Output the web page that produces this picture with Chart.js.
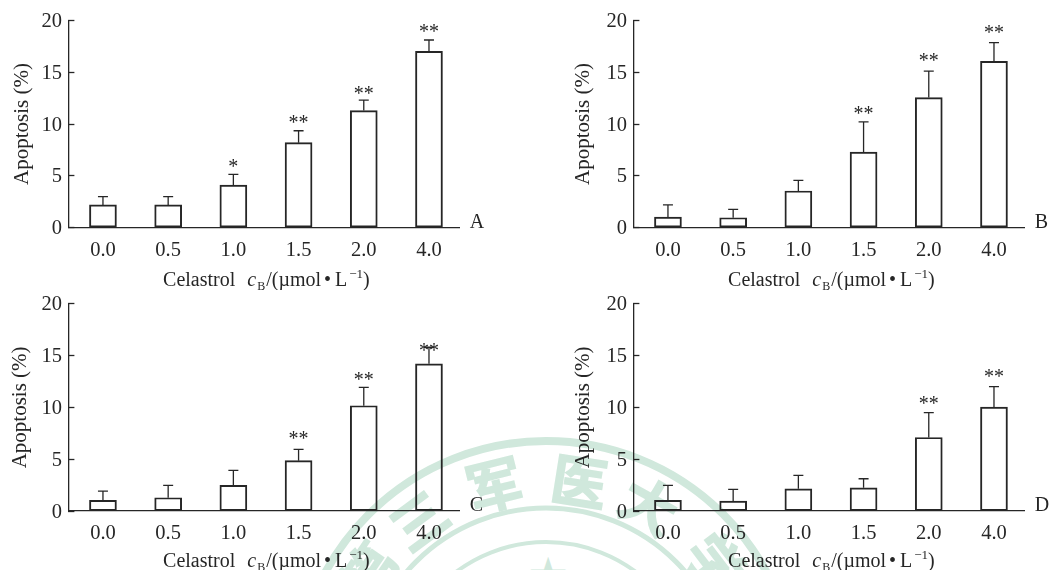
<!DOCTYPE html>
<html>
<head>
  <title>Celastrol apoptosis</title>
  <script src="https://cdn.jsdelivr.net/npm/chart.js"></script>
  <style>
    html, body { margin: 0; height: 100%; background: #fff; overflow: hidden; }
    canvas, svg { position: absolute; }
    svg { left: 0; top: 0; }
  </style>
</head>
<body>
  <!-- pale stamp behind the two lower panels -->
  <svg width="1051" height="570" aria-hidden="true">
    <g fill="none" stroke="#d0e8dc">
      <circle cx="546" cy="692" r="251" stroke-width="8"/>
      <circle cx="546" cy="692" r="184" stroke-width="5"/>
      <circle cx="546" cy="692" r="150" stroke-width="4"/>
    </g>
    <g id="stamp" fill="#d0e8dc" stroke="#d0e8dc" stroke-width="1.5" font-family="Noto Sans CJK SC" font-weight="700" font-size="56" text-anchor="middle"></g>
    <text x="548" y="590" fill="#d0e8dc" font-family="DejaVu Sans" font-size="46" text-anchor="middle">★</text>
  </svg>
  <canvas id="chartA" width="520" height="290" style="left:0;top:0"></canvas>
  <canvas id="chartB" width="486" height="290" style="left:565px;top:0"></canvas>
  <canvas id="chartC" width="520" height="287" style="left:0;top:283px"></canvas>
  <canvas id="chartD" width="486" height="287" style="left:565px;top:283px"></canvas>

  <script>
    const categories = ['0.0', '0.5', '1.0', '1.5', '2.0', '4.0'];
    const yTicks = [0, 5, 10, 15, 20];

    const barsA = [2.2, 2.2, 4.1, 8.2, 11.3, 17.0];
    const errTopA = [3.0, 3.0, 5.15, 9.35, 12.3, 18.1];
    const starsA = ['', '', '*', '**', '**', '**'];
    const starYA = [0, 0, 6.2, 10.4, 13.2, 19.2];

    const barsB = [1.03, 0.96, 3.54, 7.3, 12.55, 16.05];
    const errTopB = [2.2, 1.77, 4.57, 10.2, 15.1, 17.85];
    const starsB = ['', '', '', '**', '**', '**'];
    const starYB = [0, 0, 0, 11.35, 16.4, 19.07];

    const barsC = [1.03, 1.29, 2.48, 4.86, 10.16, 14.2];
    const errTopC = [1.93, 2.48, 3.92, 5.95, 11.93, 15.8];
    const starsC = ['', '', '', '**', '**', '**'];
    const starYC = [0, 0, 0, 7.27, 13.0, 15.8];

    const barsD = [1.03, 0.96, 2.15, 2.25, 7.1, 10.03];
    const errTopD = [2.48, 2.09, 3.44, 3.12, 9.49, 12.0];
    const starsD = ['', '', '', '', '**', '**'];
    const starYD = [0, 0, 0, 0, 10.7, 13.28];

    const INK = '#262626';
    const FONT = '"Liberation Serif"';

    Chart.defaults.font.family = FONT;
    Chart.defaults.font.size = 20.5;
    Chart.defaults.color = INK;

    // characters of the stamp sit on a circle
    const stamp = document.getElementById('stamp');
    [['第', -56], ['三', -36.5], ['军', -14], ['医', 9], ['大', 29], ['学', 52.6]].forEach(([ch, deg]) => {
      const t = document.createElementNS('http://www.w3.org/2000/svg', 'text');
      t.textContent = ch;
      t.setAttribute('transform', `translate(546 692) rotate(${deg}) translate(0 -192)`);
      stamp.appendChild(t);
    });

    // "Celastrol cB/(µmol•L-1)" needs italic, subscript and superscript
    const xTitleParts = [
      { text: 'Celastrol ', size: 20, dy: 0, gap: 0 },
      { text: 'c', size: 20, dy: 0, gap: 7, italic: true },
      { text: 'B', size: 12, dy: 4, gap: 1 },
      { text: '/(µmol', size: 20, dy: 0, gap: 1 },
      { text: '•', size: 20, dy: 0, gap: 3 },
      { text: 'L', size: 20, dy: 0, gap: 4 },
      { text: '−1', size: 13, dy: -8, gap: 2 },
      { text: ')', size: 20, dy: 0, gap: 0 }
    ];

    function drawXTitle(ctx, cx, y) {
      const fontOf = p => (p.italic ? 'italic ' : '') + p.size + 'px ' + FONT;
      let total = 0;
      xTitleParts.forEach(p => { ctx.font = fontOf(p); total += p.gap + ctx.measureText(p.text).width; });
      let x = cx - total / 2;
      xTitleParts.forEach(p => {
        ctx.font = fontOf(p);
        x += p.gap;
        ctx.fillText(p.text, x, y + p.dy);
        x += ctx.measureText(p.text).width;
      });
    }

    function makePanel(id, letter, bars, errTop, stars, starY, o) {
      const canvas = document.getElementById(id);
      const annotations = {
        id: 'annotations',
        afterDatasetsDraw(chart) {
          const { ctx, scales: { x, y } } = chart;
          ctx.save();
          ctx.strokeStyle = INK;
          ctx.lineWidth = 1.3;
          ctx.fillStyle = INK;
          bars.forEach((v, i) => {
            const px = x.getPixelForValue(i);
            const top = y.getPixelForValue(errTop[i]);
            ctx.beginPath();
            ctx.moveTo(px, y.getPixelForValue(v));
            ctx.lineTo(px, top);
            ctx.moveTo(px - 5, top);
            ctx.lineTo(px + 5, top);
            ctx.stroke();
            if (stars[i]) {
              ctx.font = '20px ' + FONT;
              ctx.textAlign = 'center';
              ctx.fillText(stars[i], px, y.getPixelForValue(starY[i]) + 9.5);
            }
          });
          ctx.textAlign = 'left';
          ctx.font = '20px ' + FONT;
          ctx.fillText(letter, x.right + 10.5, y.bottom + o.letterDy);
          drawXTitle(ctx, x.left + 198, y.bottom + o.titleDy);
          ctx.restore();
        }
      };
      return new Chart(canvas, {
        type: 'bar',
        data: {
          datasets: [{
            data: bars.map((v, i) => ({ x: i, y: v })),
            backgroundColor: 'transparent',
            borderColor: INK,
            borderWidth: 1.3,
            borderSkipped: false,
            barThickness: 27
          }]
        },
        options: {
          responsive: false,
          animation: false,
          layout: { padding: { top: o.top, right: canvas.width - 68.4 - 390.9 } },
          plugins: { legend: { display: false }, tooltip: { enabled: false } },
          scales: {
            x: {
              type: 'linear',
              offset: false,
              min: -0.53,
              max: 5.465,
              grid: { display: false, offset: false },
              border: { color: INK, width: 1.3 },
              ticks: {
                stepSize: 1,
                includeBounds: false,
                autoSkip: false,
                maxRotation: 0,
                padding: o.xPad,
                callback: v => categories[v]
              },
              afterFit(s) { s.height = canvas.height - o.top - 207.4; }
            },
            y: {
              min: 0,
              max: 20,
              grid: { drawOnChartArea: false, tickLength: -6, tickColor: INK, tickWidth: 1.3 },
              border: { color: INK, width: 1.3 },
              ticks: { stepSize: 5, padding: 12.5, labelOffset: 1.2, callback: v => (yTicks.includes(v) ? v : '') },
              title: { display: true, text: 'Apoptosis (%)', font: { size: 21 }, padding: { top: o.yTitlePad, bottom: 0 } },
              afterFit(s) { s.width = 68.4; s.paddingTop = 0; s.paddingBottom = 0; }
            }
          }
        },
        plugins: [annotations]
      });
    }

    makePanel('chartA', 'A', barsA, errTopA, starsA, starYA, { top: 20.3, xPad: 3, titleDy: 58, letterDy: 0, yTitlePad: 9.5 });
    makePanel('chartB', 'B', barsB, errTopB, starsB, starYB, { top: 20.3, xPad: 3, titleDy: 58, letterDy: 0, yTitlePad: 5.5 });
    makePanel('chartC', 'C', barsC, errTopC, starsC, starYC, { top: 20.7, xPad: 2, titleDy: 56, letterDy: 0, yTitlePad: 8 });
    makePanel('chartD', 'D', barsD, errTopD, starsD, starYD, { top: 20.7, xPad: 2, titleDy: 56, letterDy: 0, yTitlePad: 6 });
  </script>
</body>
</html>
